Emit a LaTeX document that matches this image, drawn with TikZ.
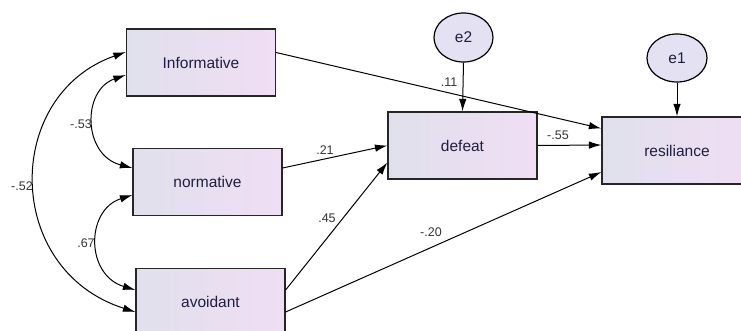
\documentclass[tikz,border=0pt]{standalone}
\usepackage{fontspec}
\setmainfont{Liberation Sans}
\usepackage{tikz}
\usetikzlibrary{arrows.meta,shapes,calc,positioning}
\definecolor{boxleft}{RGB}{224, 224, 236}
\definecolor{boxright}{RGB}{240, 222, 244}
\definecolor{errfill}{RGB}{228, 226, 242}
\definecolor{textnavy}{RGB}{32, 30, 64}

\begin{document}
\begin{tikzpicture}[x=1pt,y=-1pt,>={Latex[length=12.5pt,width=7.5pt]},
  var/.style={draw=black!85,line width=1.2pt,left color=boxleft,right color=boxright,
    minimum width=149pt,minimum height=67pt,inner sep=0pt,font=\fontsize{15.5}{15.5}\selectfont,text=textnavy},
  err/.style={ellipse,draw=black,line width=1.2pt,fill=errfill,
    minimum width=59pt,minimum height=49pt,inner sep=0pt,font=\fontsize{15.5}{15.5}\selectfont,text=textnavy},
  path/.style={->,line width=1pt},
  cov/.style={<->,line width=1pt},
  coef/.style={font=\fontsize{12.5}{12.5}\selectfont,text=black!80}]
   \useasboundingbox (0,0) rectangle (741,331);
   \fill[white] (0,0) rectangle (741,331);
   % observed variables
   \node[var] (inf) at (201,62.5) {Informative};
   \node[var] (nor) at (207.5,182) {normative};
   \node[var] (avo) at (210.5,302) {avoidant};
   \node[var] (def) at (462.5,145.5) {defeat};
   \node[var,minimum width=150pt] (res) at (677,150.5) {resiliance};
   % errors
   \node[err] (e2) at (463.5,37.5) {e2};
   \node[err,minimum width=60pt,minimum height=48pt] (e1) at (677,58) {e1};
   % regressions
   \draw[path] ([yshift=10pt]inf.east) -- ([yshift=22pt]res.west);
   \draw[path] ([yshift=14pt]nor.east) -- (def.west);
   \draw[path] ([yshift=12pt]avo.east) -- ([yshift=-17pt]def.west);
   \draw[path] ([yshift=-10pt]avo.east) -- ([yshift=-21.5pt]res.west);
   \draw[path] (def.east) -- ([yshift=5.5pt]res.west);
   \draw[path] (e2.south) -- (def.north);
   \draw[path] (e1.south) -- (res.north);
   % covariances
   \draw[cov] ([yshift=-12.5pt]inf.west) .. controls +(-44,15) and +(-50,-13) .. ([yshift=14pt]nor.west);
   \draw[cov] ([yshift=-13pt]nor.west) .. controls +(-47,15) and +(-50,-15) .. ([yshift=12pt]avo.west);
   \draw[cov] ([yshift=10.5pt]inf.west) .. controls +(-123,43) and +(-132,-42) .. ([yshift=-10pt]avo.west);
   % estimates
   \node[coef] (c53) at (81,124) {-.53};
   \node[coef] (c67) at (86,243) {.67};
   \node[coef] (c52) at (22,186) {-.52};
   \node[coef] (c21) at (325,150) {.21};
   \node[coef] (c45) at (327,218) {.45};
   \node[coef] (c11) at (449,82) {.11};
   \node[coef] (c55) at (558,135) {-.55};
   \node[coef] (c20) at (431,232) {-.20};
\end{tikzpicture}
\end{document}
